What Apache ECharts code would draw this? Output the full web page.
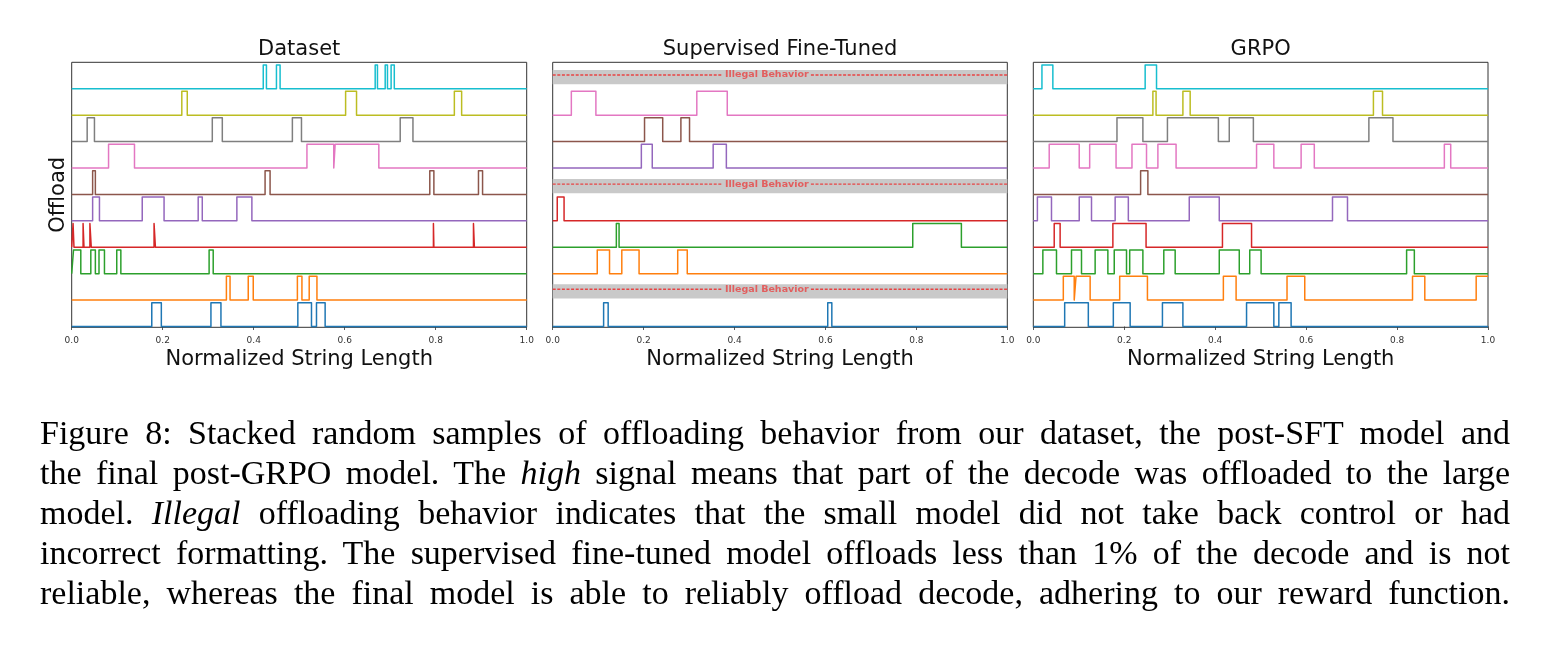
<!DOCTYPE html>
<html>
<head>
<meta charset="utf-8">
<script src="https://cdn.jsdelivr.net/npm/echarts@6/dist/echarts.min.js"></script>
<style>
  html, body { margin: 0; padding: 0; background: #ffffff; }
  #chart { position: absolute; left: 0; top: 0; width: 1552px; height: 646px; }
  #caption { position: absolute; left: 40px; top: 413px; width: 1470px;
    font-family: 'Liberation Serif', 'DejaVu Serif', serif; font-size: 34px; line-height: 40px; color: #000; }
  #caption div { text-align: justify; text-align-last: justify; white-space: nowrap; }
</style>
</head>
<body>
<div id="chart"></div>
<div id="caption">
  <div>Figure 8: Stacked random samples of offloading behavior from our dataset, the post-SFT model and</div>
  <div>the final post-GRPO model. The <i>high</i> signal means that part of the decode was offloaded to the large</div>
  <div>model. <i>Illegal</i> offloading behavior indicates that the small model did not take back control or had</div>
  <div>incorrect formatting. The supervised fine-tuned model offloads less than 1% of the decode and is not</div>
  <div>reliable, whereas the final model is able to reliably offload decode, adhering to our reward function.</div>
</div>
<script>
// ---------------- DATA ----------------
const panelTitles = ['Dataset', 'Supervised Fine-Tuned', 'GRPO'];
const xTickLabels = ['0.0', '0.2', '0.4', '0.6', '0.8', '1.0'];
const xAxisTitle = 'Normalized String Length';
const yAxisTitle = 'Offload';
const illegalLabel = 'Illegal Behavior';
const highLevel = 0.9;

// rows bottom (0) to top (9); each entry: list of [start, end] offload pulses
const datasetPulses = [
  [[0.176, 0.197], [0.306, 0.328], [0.497, 0.527], [0.538, 0.557]],
  [[0.340, 0.348], [0.388, 0.399], [0.496, 0.506], [0.522, 0.539]],
  [[0.004, 0.020], [0.042, 0.052], [0.060, 0.072], [0.099, 0.108], [0.302, 0.311]],
  [[0.003, 0.005], [0.025, 0.027], [0.040, 0.043], [0.181, 0.184], [0.795, 0.796], [0.883, 0.885]],
  [[0.046, 0.061], [0.155, 0.203], [0.278, 0.287], [0.363, 0.396]],
  [[0.046, 0.052], [0.425, 0.436], [0.787, 0.796], [0.894, 0.903]],
  [[0.081, 0.138], [0.517, 0.576], [0.579, 0.675]],
  [[0.034, 0.050], [0.309, 0.331], [0.485, 0.505], [0.722, 0.750]],
  [[0.242, 0.254], [0.602, 0.626], [0.841, 0.857]],
  [[0.421, 0.428], [0.450, 0.458], [0.667, 0.672], [0.689, 0.694], [0.702, 0.709]]
];
// null = illegal behaviour row
const sftPulses = [
  [[0.112, 0.122], [0.605, 0.614]],
  null,
  [[0.098, 0.125], [0.152, 0.190], [0.275, 0.296]],
  [[0.140, 0.146], [0.792, 0.899]],
  [[0.010, 0.025]],
  null,
  [[0.195, 0.219], [0.353, 0.382]],
  [[0.202, 0.242], [0.282, 0.301]],
  [[0.041, 0.095], [0.317, 0.384]],
  null
];
const sftIllegalBands = [1.33, 5.31, 9.44];
const grpoPulses = [
  [[0.069, 0.121], [0.176, 0.213], [0.284, 0.329], [0.469, 0.529], [0.540, 0.567]],
  [[0.066, 0.090], [0.094, 0.125], [0.190, 0.251], [0.418, 0.446], [0.558, 0.597], [0.834, 0.861], [0.974, 1.0]],
  [[0.021, 0.051], [0.084, 0.106], [0.136, 0.164], [0.178, 0.205], [0.212, 0.241], [0.287, 0.312], [0.409, 0.453], [0.476, 0.501], [0.821, 0.838]],
  [[0.046, 0.059], [0.175, 0.248], [0.416, 0.480]],
  [[0.009, 0.040], [0.101, 0.128], [0.180, 0.209], [0.343, 0.409], [0.658, 0.691]],
  [[0.236, 0.252]],
  [[0.035, 0.101], [0.124, 0.182], [0.217, 0.249], [0.274, 0.314], [0.491, 0.529], [0.589, 0.618], [0.904, 0.918]],
  [[0.184, 0.241], [0.295, 0.407], [0.431, 0.484], [0.738, 0.791]],
  [[0.263, 0.270], [0.329, 0.345], [0.748, 0.768]],
  [[0.019, 0.043], [0.246, 0.271]]
];

// ---------------- STYLE / LAYOUT ----------------
const colorCycle = ['#1f77b4', '#ff7f0e', '#2ca02c', '#d62728', '#9467bd',
                    '#8c564b', '#e377c2', '#7f7f7f', '#bcbd22', '#17becf'];
const FONT = 'DejaVu Sans';
const grids = [
  { left: 71.7, top: 62.3, width: 455, height: 265 },
  { left: 552.7, top: 62.3, width: 454.6, height: 265 },
  { left: 1033.3, top: 62.3, width: 454.7, height: 265 }
];
const illegalTextX = 0.471, illegalGapL = 0.372, illegalGapR = 0.568;
const bandHalf = 0.27, lineOffset = 0.08;

function stepPoints(row, pulses) {
  const pts = [[0, row]];
  let endsHigh = false;
  pulses.forEach(([a, b]) => {
    pts.push([a, row], [a, row + highLevel], [b, row + highLevel]);
    if (b < 1) { pts.push([b, row]); endsHigh = false; } else { endsHigh = true; }
  });
  if (!endsHigh) pts.push([1, row]);
  return pts;
}

const series = [];
function addPanel(pi, rows) {
  let ci = 0;
  rows.forEach((pulses, row) => {
    if (pulses === null) return;
    series.push({
      type: 'line', xAxisIndex: pi, yAxisIndex: pi,
      data: stepPoints(row, pulses), showSymbol: false, symbol: 'none',
      lineStyle: { width: 1.5, color: colorCycle[ci % 10], join: 'round', cap: 'butt' },
      silent: true, animation: false, z: 3
    });
    ci++;
  });
}
addPanel(0, datasetPulses);
addPanel(1, sftPulses);
addPanel(2, grpoPulses);

// illegal bands in SFT panel
sftIllegalBands.forEach((c) => {
  const lv = c + lineOffset;
  series.push({
    type: 'line', xAxisIndex: 1, yAxisIndex: 1, data: [], silent: true, animation: false,
    markArea: { silent: true, itemStyle: { color: '#c9c9c9' },
      data: [[{ coord: [0, c - bandHalf] }, { coord: [1, c + bandHalf] }]] }, z: 1
  });
  [[0, illegalGapL], [illegalGapR, 1]].forEach(([a, b]) => {
    series.push({
      type: 'line', xAxisIndex: 1, yAxisIndex: 1, data: [[a, lv], [b, lv]],
      showSymbol: false, symbol: 'none', silent: true, animation: false, z: 2,
      lineStyle: { width: 1.3, color: '#e84444', type: [3, 1.6] }
    });
  });
  series.push({
    type: 'scatter', xAxisIndex: 1, yAxisIndex: 1, data: [[illegalTextX, lv]],
    symbolSize: 0, silent: true, animation: false, z: 4,
    label: { show: true, position: 'inside', formatter: illegalLabel,
      fontFamily: FONT, fontWeight: 'bold', fontSize: 9.5, color: '#e84444' }
  });
});

const option = {
  backgroundColor: '#ffffff',
  animation: false,
  title: panelTitles.map((t, i) => ({
    text: t, left: grids[i].left + grids[i].width / 2, top: 39, textAlign: 'center', padding: 0,
    textStyle: { fontFamily: FONT, fontSize: 21, fontWeight: 'normal', color: '#111' }
  })),
  grid: grids.map(g => Object.assign({ show: true, borderColor: '#333', borderWidth: 1,
    backgroundColor: 'transparent', containLabel: false }, g)),
  xAxis: grids.map((g, i) => ({
    gridIndex: i, type: 'value', min: 0, max: 1, interval: 0.2,
    axisLine: { show: false },
    axisTick: { show: true, length: 3.5, lineStyle: { color: '#333', width: 0.8 } },
    axisLabel: { fontFamily: FONT, fontSize: 9, color: '#333', margin: 9,
      formatter: (v) => xTickLabels[Math.round(v / 0.2)] },
    splitLine: { show: false },
    name: xAxisTitle, nameLocation: 'middle', nameGap: 22,
    nameTextStyle: { fontFamily: FONT, fontSize: 21, color: '#111' }
  })),
  yAxis: grids.map((g, i) => ({
    gridIndex: i, type: 'value', min: -0.03, max: 10,
    axisLine: { show: false }, axisTick: { show: false }, axisLabel: { show: false },
    splitLine: { show: false },
    name: i === 0 ? yAxisTitle : '', nameLocation: 'middle', nameGap: 3, nameRotate: 90,
    nameTextStyle: { fontFamily: FONT, fontSize: 21, color: '#111' }
  })),
  series: series
};

const chart = echarts.init(document.getElementById('chart'), null, { renderer: 'canvas' });
chart.setOption(option);
</script>
</body>
</html>
